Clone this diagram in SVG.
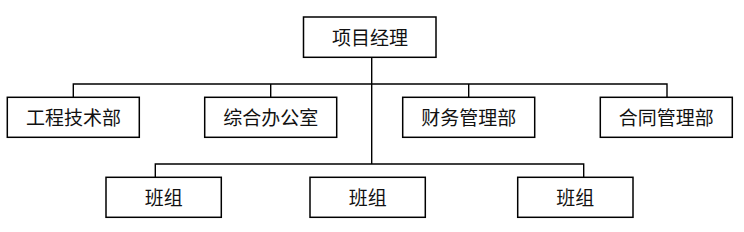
<svg xmlns="http://www.w3.org/2000/svg" width="744" height="232" viewBox="0 0 744 232">
<style>
.box{fill:#fff;stroke:#000;stroke-width:1.5}
.ln{fill:none;stroke:#000;stroke-width:1.4}
text{font-family:"Liberation Serif","Noto Sans CJK SC",serif;font-size:19px;fill:#111;text-anchor:middle;dominant-baseline:central}
</style>
<rect width="744" height="232" fill="#fff"/>
<g id="connectors">
<path class="ln" d="M371.7 57V164"/>
<path class="ln" d="M73.3 97.3V84H667V97.3"/>
<path class="ln" d="M270.7 84V97.3M468.7 84V97.3"/>
<path class="ln" d="M155.3 177.3V164H583.7V177.3"/>
</g>
<g id="n0"><rect class="box" x="303.5" y="17" width="132.5" height="40.3"/><text x="370" y="38">项目经理</text></g>
<g id="n1"><rect class="box" x="7.3" y="97.3" width="132" height="40"/><text x="73.5" y="118">工程技术部</text></g>
<g id="n2"><rect class="box" x="204.7" y="97.3" width="132" height="40"/><text x="270.7" y="118">综合办公室</text></g>
<g id="n3"><rect class="box" x="402.7" y="97.3" width="132" height="40"/><text x="468.7" y="118">财务管理部</text></g>
<g id="n4"><rect class="box" x="600.3" y="97.3" width="132" height="40"/><text x="666.3" y="118">合同管理部</text></g>
<g id="n5"><rect class="box" x="106" y="177.3" width="115.3" height="40"/><text x="163.7" y="198">班组</text></g>
<g id="n6"><rect class="box" x="310" y="177.3" width="115.3" height="40"/><text x="367.7" y="198">班组</text></g>
<g id="n7"><rect class="box" x="517.7" y="177.3" width="115.3" height="40"/><text x="575.3" y="198">班组</text></g>
</svg>
